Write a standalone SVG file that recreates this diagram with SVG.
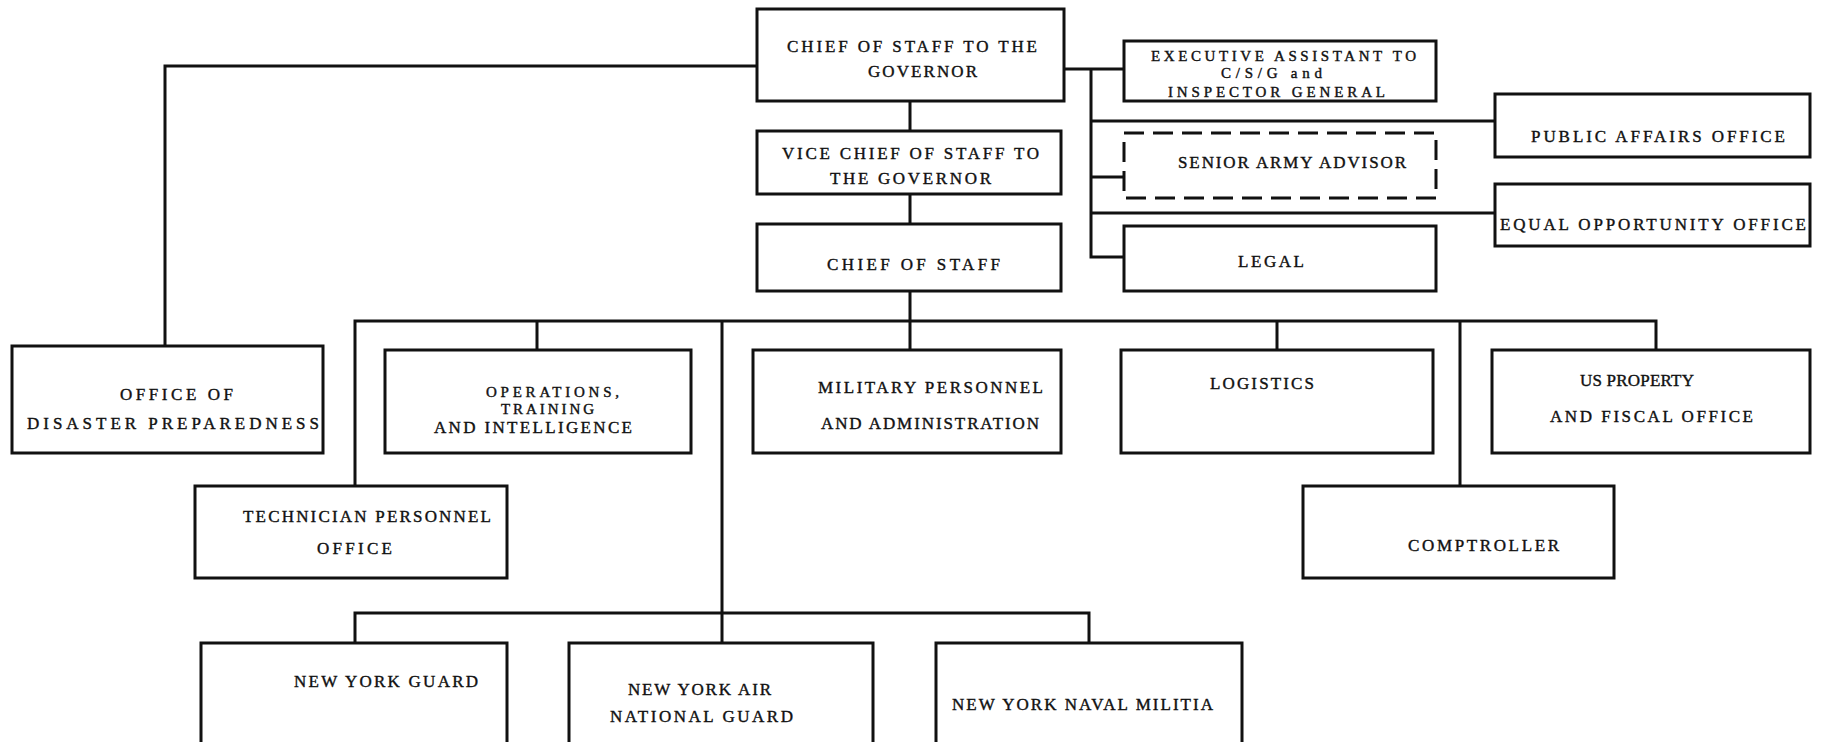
<svg xmlns="http://www.w3.org/2000/svg" width="1823" height="742" viewBox="0 0 1823 742">
<style>
.b{fill:#fff;stroke:#111;stroke-width:3}
.d{fill:#fff;stroke:#111;stroke-width:3;stroke-dasharray:20 9}
.c{fill:none;stroke:#111;stroke-width:3}
text{font-family:"Liberation Serif","DejaVu Serif",serif;font-size:17px;fill:#111;stroke:#111;stroke-width:0.4}
.s{font-size:15px}
</style>
<rect width="1823" height="742" fill="#fff"/>
<g id="connectors">
<path class="c" d="M910 101V131M910 194V224M910 291V350"/>
<path class="c" d="M757 66H165V346"/>
<path class="c" d="M1064 69H1124M1091 69V257H1124M1091 121H1495M1091 177H1124M1091 213H1495"/>
<path class="c" d="M355 486V321H1656V350M537 321V350M1277 321V350M1460 321V486"/>
<path class="c" d="M722 321V643M355 643V613H1089V643"/>
</g>
<g id="cos-gov"><rect class="b" x="757" y="9" width="307" height="92"/>
<text x="787" y="52" textLength="250" lengthAdjust="spacing">CHIEF OF STAFF TO THE</text>
<text x="868" y="77" textLength="109" lengthAdjust="spacing">GOVERNOR</text></g>
<g id="vice"><rect class="b" x="757" y="131" width="304" height="63"/>
<text x="782" y="159" textLength="257" lengthAdjust="spacing">VICE CHIEF OF STAFF TO</text>
<text x="830" y="184" textLength="161" lengthAdjust="spacing">THE GOVERNOR</text></g>
<g id="chief"><rect class="b" x="757" y="224" width="304" height="67"/>
<text x="827" y="270" textLength="173" lengthAdjust="spacing">CHIEF OF STAFF</text></g>
<g id="exec"><rect class="b" x="1124" y="41" width="312" height="60"/>
<text class="s" x="1151" y="61" textLength="265" lengthAdjust="spacing">EXECUTIVE ASSISTANT TO</text>
<text class="s" x="1221" y="78" textLength="101" lengthAdjust="spacing">C/S/G  and</text>
<text class="s" x="1168" y="97" textLength="217" lengthAdjust="spacing">INSPECTOR GENERAL</text></g>
<g id="saa"><rect class="d" x="1124" y="133" width="312" height="65"/>
<text x="1178" y="168" textLength="228" lengthAdjust="spacing">SENIOR ARMY ADVISOR</text></g>
<g id="legal"><rect class="b" x="1124" y="226" width="312" height="65"/>
<text x="1238" y="267" textLength="66" lengthAdjust="spacing">LEGAL</text></g>
<g id="pao"><rect class="b" x="1495" y="94" width="315" height="63"/>
<text x="1531" y="142" textLength="254" lengthAdjust="spacing">PUBLIC AFFAIRS OFFICE</text></g>
<g id="eeo"><rect class="b" x="1495" y="184" width="315" height="62"/>
<text x="1500" y="230" textLength="306" lengthAdjust="spacing">EQUAL OPPORTUNITY OFFICE</text></g>
<g id="disaster"><rect class="b" x="12" y="346" width="311" height="107"/>
<text x="120" y="400" textLength="113" lengthAdjust="spacing">OFFICE OF</text>
<text x="27" y="429" textLength="292" lengthAdjust="spacing">DISASTER PREPAREDNESS</text></g>
<g id="ops"><rect class="b" x="385" y="350" width="306" height="103"/>
<text class="s" x="486" y="397" textLength="133" lengthAdjust="spacing">OPERATIONS,</text>
<text class="s" x="501" y="414" textLength="93" lengthAdjust="spacing">TRAINING</text>
<text x="434" y="433" textLength="198" lengthAdjust="spacing">AND INTELLIGENCE</text></g>
<g id="milpers"><rect class="b" x="753" y="350" width="308" height="103"/>
<text x="818" y="393" textLength="225" lengthAdjust="spacing">MILITARY PERSONNEL</text>
<text x="821" y="429" textLength="218" lengthAdjust="spacing">AND ADMINISTRATION</text></g>
<g id="logistics"><rect class="b" x="1121" y="350" width="312" height="103"/>
<text x="1210" y="389" textLength="104" lengthAdjust="spacing">LOGISTICS</text></g>
<g id="uspfo"><rect class="b" x="1492" y="350" width="318" height="103"/>
<text x="1580" y="386" textLength="114" lengthAdjust="spacing">US PROPERTY</text>
<text x="1550" y="422" textLength="203" lengthAdjust="spacing">AND FISCAL OFFICE</text></g>
<g id="tech"><rect class="b" x="195" y="486" width="312" height="92"/>
<text x="243" y="522" textLength="248" lengthAdjust="spacing">TECHNICIAN PERSONNEL</text>
<text x="317" y="554" textLength="75" lengthAdjust="spacing">OFFICE</text></g>
<g id="comptroller"><rect class="b" x="1303" y="486" width="311" height="92"/>
<text x="1408" y="551" textLength="151" lengthAdjust="spacing">COMPTROLLER</text></g>
<g id="nyg"><rect class="b" x="201" y="643" width="306" height="120"/>
<text x="294" y="687" textLength="184" lengthAdjust="spacing">NEW YORK GUARD</text></g>
<g id="nyang"><rect class="b" x="569" y="643" width="304" height="120"/>
<text x="628" y="695" textLength="143" lengthAdjust="spacing">NEW YORK AIR</text>
<text x="610" y="722" textLength="183" lengthAdjust="spacing">NATIONAL GUARD</text></g>
<g id="nynm"><rect class="b" x="936" y="643" width="306" height="120"/>
<text x="952" y="710" textLength="261" lengthAdjust="spacing">NEW YORK NAVAL MILITIA</text></g>
</svg>
